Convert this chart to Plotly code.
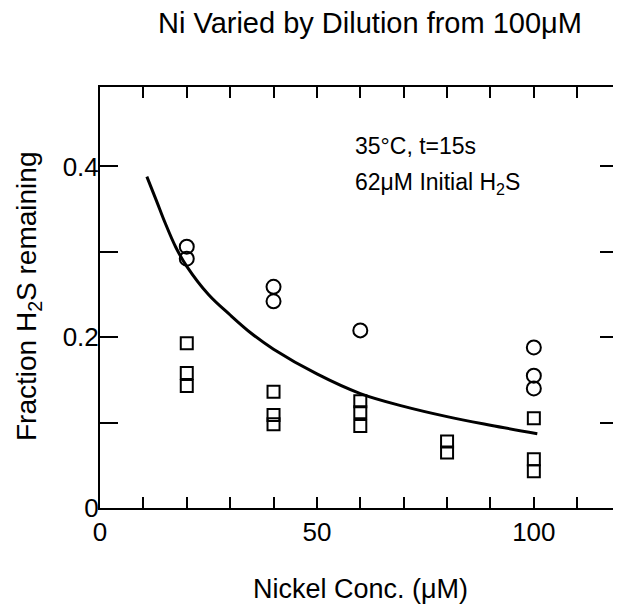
import plotly.graph_objects as go

# Circles (upper series)
circle_x = [20, 20, 40, 40, 60, 100, 100, 100]
circle_y = [0.306, 0.292, 0.259, 0.242, 0.208, 0.188, 0.155, 0.140]

# Squares (lower series)
square_x = [20, 20, 20, 40, 40, 40, 60, 60, 60, 80, 80, 100, 100, 100]
square_y = [0.193, 0.158, 0.143, 0.136, 0.109, 0.098, 0.125, 0.112, 0.096,
            0.078, 0.065, 0.105, 0.057, 0.043]

# Fitted curve
curve_x = [10.8, 13, 15, 17.5, 20, 25, 30, 35, 40, 50, 60, 70, 80, 90, 100.8]
curve_y = [0.388, 0.360, 0.334, 0.305, 0.283, 0.250, 0.226, 0.204, 0.186,
           0.157, 0.134, 0.119, 0.107, 0.097, 0.087]

x_tickvals = [0, 10, 20, 30, 40, 50, 60, 70, 80, 90, 100, 110]
x_ticktext = ["0", "", "", "", "", "50", "", "", "", "", "100", ""]
y_tickvals = [0, 0.1, 0.2, 0.3, 0.4]
y_ticktext = ["0", "", "0.2", "", "0.4"]

FONT = "Liberation Sans, Arial, sans-serif"
W, H = 621, 606
OFF = 8  # page body margin
# target plot area in page pixels
PL, PR, PT, PB = 100, 618, 87, 508
ML, MR, MT, MB = PL - OFF, W - (PR - OFF), PT - OFF, H - (PB - OFF)

fig = go.Figure()
fig.add_trace(go.Scatter(x=curve_x, y=curve_y, mode="lines",
                         line=dict(color="black", width=3, shape="spline"),
                         showlegend=False, hoverinfo="skip"))
fig.add_trace(go.Scatter(x=circle_x, y=circle_y, mode="markers",
                         marker=dict(symbol="circle-open", size=14, color="black",
                                     line=dict(color="black", width=2)),
                         showlegend=False))
fig.add_trace(go.Scatter(x=square_x, y=square_y, mode="markers",
                         marker=dict(symbol="square-open", size=12, color="black",
                                     line=dict(color="black", width=2)),
                         showlegend=False))

def px_x(p):
    return (p - PL) / (PR - PL)

def px_y(p):
    return (PB - p) / (PB - PT)

fig.update_layout(
    width=W, height=H,
    margin=dict(l=ML, r=MR, t=MT, b=MB),
    paper_bgcolor="white", plot_bgcolor="white",
    font=dict(family=FONT, color="black", size=20),
    xaxis=dict(range=[0, 119.4], tickmode="array", tickvals=x_tickvals,
               ticktext=x_ticktext, ticks="inside", ticklen=11, tickwidth=2,
               tickcolor="black", showline=True, linewidth=2, linecolor="black",
               mirror="ticks", showgrid=False, zeroline=False, automargin=False,
               tickfont=dict(size=26)),
    yaxis=dict(range=[0, 0.493], tickmode="array", tickvals=y_tickvals,
               ticktext=y_ticktext, ticks="inside", ticklen=18, tickwidth=2,
               tickcolor="black", showline=True, linewidth=2, linecolor="black",
               mirror="ticks", showgrid=False, zeroline=False, automargin=False,
               ticklabelstandoff=-6, tickfont=dict(size=26)),
    annotations=[
        dict(text="Ni Varied by Dilution from 100μM", x=px_x(370), y=px_y(23),
             xref="paper", yref="paper", xanchor="center", yanchor="middle",
             showarrow=False, font=dict(size=29)),
        dict(text="Nickel Conc. (μM)", x=px_x(360), y=px_y(589),
             xref="paper", yref="paper", xanchor="center", yanchor="middle",
             showarrow=False, font=dict(size=27)),
        dict(text="Fraction H<sub>2</sub>S remaining", x=px_x(28), y=px_y(297),
             xref="paper", yref="paper", xanchor="center", yanchor="middle",
             textangle=-90, showarrow=False, font=dict(size=28)),
        dict(text="35°C, t=15s", x=(353 - PL) / 4.34, y=0.424, xref="x", yref="y",
             xanchor="left", yanchor="middle", showarrow=False,
             font=dict(size=23)),
        dict(text="62μM Initial H<sub>2</sub>S", x=(353 - PL) / 4.34, y=0.38,
             xref="x", yref="y", xanchor="left", yanchor="middle",
             showarrow=False, font=dict(size=23)),
    ],
)

fig.write_html("out.html")
